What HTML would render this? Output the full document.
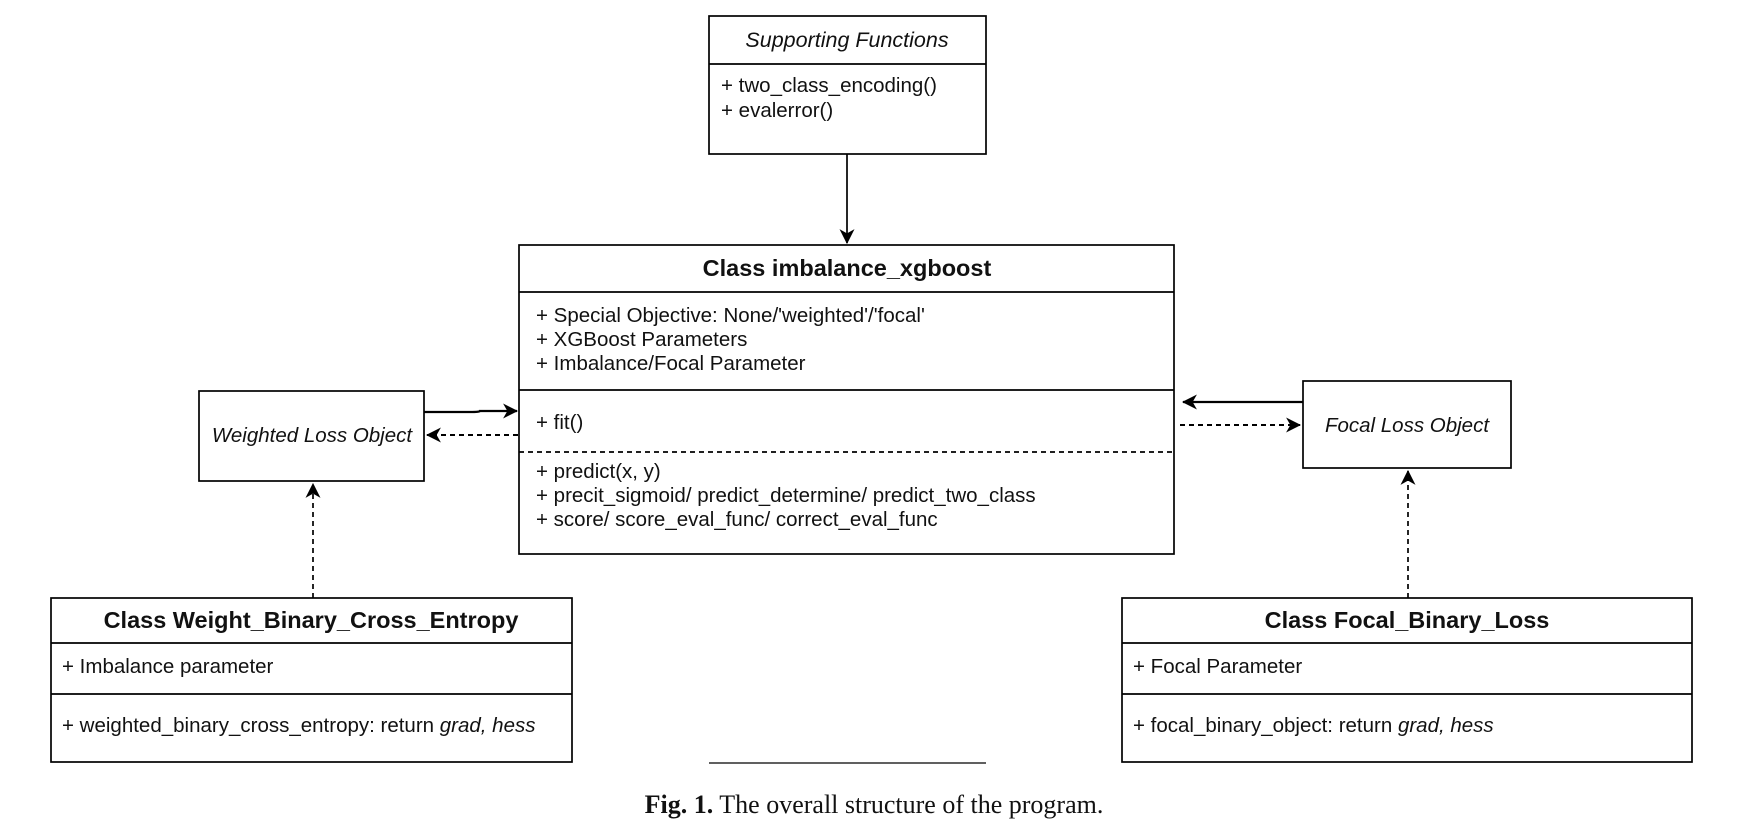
<!DOCTYPE html>
<html><head><meta charset="utf-8"><style>
html,body{margin:0;padding:0;background:#fff;}
svg{display:block;}
text{font-family:"Liberation Sans",sans-serif;font-size:20.5px;fill:#111;}
.b{font-weight:bold;font-size:23.5px;}
.i{font-style:italic;}
</style></head><body>
<svg width="1744" height="832" viewBox="0 0 1744 832" xmlns="http://www.w3.org/2000/svg">
<defs>
<marker id="a" viewBox="0 0 14 14" refX="13" refY="7" markerWidth="15" markerHeight="15" markerUnits="userSpaceOnUse" orient="auto">
<path d="M0,0 L14,7 L0,14 L4,7 Z" fill="#000"/></marker>
</defs>
<g fill="none" stroke="#000" stroke-width="1.7">
<rect x="709" y="16" width="277" height="138"/>
<line x1="709" y1="64" x2="986" y2="64"/>
<rect x="519" y="245" width="655" height="309"/>
<line x1="519" y1="292" x2="1174" y2="292"/>
<line x1="519" y1="390" x2="1174" y2="390"/>
<line x1="519" y1="452" x2="1174" y2="452" stroke-dasharray="5,4"/>
<rect x="199" y="391" width="225" height="90"/>
<rect x="1303" y="381" width="208" height="87"/>
<rect x="51" y="598" width="521" height="164"/>
<line x1="51" y1="643" x2="572" y2="643"/>
<line x1="51" y1="694" x2="572" y2="694"/>
<rect x="1122" y="598" width="570" height="164"/>
<line x1="1122" y1="643" x2="1692" y2="643"/>
<line x1="1122" y1="694" x2="1692" y2="694"/>
<line x1="709" y1="763" x2="986" y2="763" stroke-width="1.2"/>
<line x1="847" y1="154" x2="847" y2="243" marker-end="url(#a)"/>
<path d="M424,412 L470,412 Q480,412 480,411 L517,411" stroke-width="2.2" marker-end="url(#a)"/>
<line x1="518" y1="435" x2="427" y2="435" stroke-dasharray="5,4" stroke-width="2" marker-end="url(#a)"/>
<line x1="1303" y1="402" x2="1183" y2="402" stroke-width="2.2" marker-end="url(#a)"/>
<line x1="1180" y1="425" x2="1300" y2="425" stroke-dasharray="5,4" stroke-width="2" marker-end="url(#a)"/>
<line x1="313" y1="598" x2="313" y2="484" stroke-dasharray="5,4" marker-end="url(#a)"/>
<line x1="1408" y1="598" x2="1408" y2="471" stroke-dasharray="5,4" marker-end="url(#a)"/>
</g>
<text x="847" y="47" text-anchor="middle" class="i" style="font-size:21.5px">Supporting Functions</text>
<text x="721" y="92">+ two_class_encoding()</text>
<text x="721" y="117">+ evalerror()</text>
<text x="847" y="276" text-anchor="middle" class="b">Class imbalance_xgboost</text>
<text x="536" y="322">+ Special Objective: None/'weighted'/'focal'</text>
<text x="536" y="346">+ XGBoost Parameters</text>
<text x="536" y="370">+ Imbalance/Focal Parameter</text>
<text x="536" y="429">+ fit()</text>
<text x="536" y="478">+ predict(x, y)</text>
<text x="536" y="502">+ precit_sigmoid/ predict_determine/ predict_two_class</text>
<text x="536" y="526">+ score/ score_eval_func/ correct_eval_func</text>
<text x="312" y="442" text-anchor="middle" class="i">Weighted Loss Object</text>
<text x="1407" y="432" text-anchor="middle" class="i">Focal Loss Object</text>
<text x="311" y="628" text-anchor="middle" class="b">Class Weight_Binary_Cross_Entropy</text>
<text x="62" y="673">+ Imbalance parameter</text>
<text x="62" y="732">+ weighted_binary_cross_entropy: return <tspan font-style="italic">grad, hess</tspan></text>
<text x="1407" y="628" text-anchor="middle" class="b">Class Focal_Binary_Loss</text>
<text x="1133" y="673">+ Focal Parameter</text>
<text x="1133" y="732">+ focal_binary_object: return <tspan font-style="italic">grad, hess</tspan></text>
<text x="874" y="813" text-anchor="middle" style="font-family:'Liberation Serif',serif;font-size:26px"><tspan font-weight="bold">Fig. 1.</tspan> The overall structure of the program.</text>
</svg>
</body></html>
